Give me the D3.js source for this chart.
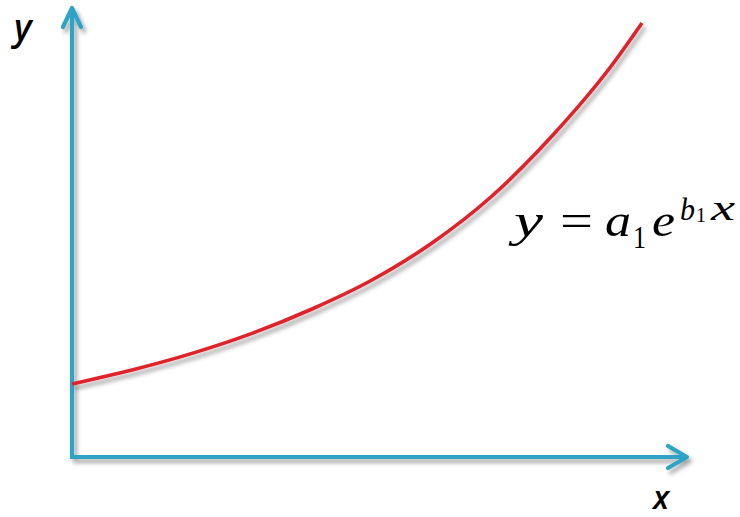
<!DOCTYPE html>
<html>
<head>
<meta charset="utf-8">
<script src="https://cdn.jsdelivr.net/npm/d3@7"></script>
<style>
  html, body { margin: 0; padding: 0; background: #fff; }
  svg { display: block; }
</style>
</head>
<body>
<svg id="chart" width="740" height="517"></svg>
<script>
// Data (arbitrary units)
const xValues = [0, 1, 2, 3, 4, 5, 6, 7, 8, 9, 9.5];
const yValues = [1.825, 2.175, 2.59, 3.09, 3.7, 4.425, 5.35, 6.525, 8.025, 9.8, 10.85];
const axisLabels = ["x", "y"];
const equationParts = ["y", "=", "a", "1", "e", "b", "1", "x"];

const svg = d3.select("#chart");
const x = d3.scaleLinear().domain([0, 10]).range([72, 672]);
const y = d3.scaleLinear().domain([0, 11]).range([457, 17]);

const defs = svg.append("defs");
const f = defs.append("filter").attr("id", "shadow")
  .attr("x", "-20%").attr("y", "-20%").attr("width", "140%").attr("height", "140%");
f.append("feDropShadow").attr("dx", 3).attr("dy", 4).attr("stdDeviation", 2.2)
  .attr("flood-color", "#000").attr("flood-opacity", 0.35);

const axisColor = "#2fa3c5";
const curveColor = "#e0202b";

const gAxes = svg.append("g").attr("filter", "url(#shadow)")
  .attr("stroke", axisColor).attr("stroke-width", 4.2).attr("fill", "none")
  .attr("stroke-linecap", "round").attr("stroke-linejoin", "round");

const x0 = x(0), y0 = y(0);
const xEnd = x.range()[1] + 15, yEnd = y.range()[1] - 9;
// vertical axis
gAxes.append("path").attr("d", `M${x0},${y0} L${x0},${yEnd}`).attr("stroke-linecap", "butt");
gAxes.append("path").attr("d", `M${x0 - 9},${yEnd + 19} L${x0},${yEnd} L${x0 + 9},${yEnd + 19}`);
// horizontal axis
gAxes.append("path").attr("d", `M${x0 - 2},${y0} L${xEnd},${y0}`).attr("stroke-linecap", "butt");
gAxes.append("path").attr("d", `M${xEnd - 19},${y0 - 11} L${xEnd},${y0} L${xEnd - 19},${y0 + 11}`);

// curve
const data = xValues.map((d, i) => ({ x: d, y: yValues[i] }));
const line = d3.line().x(d => x(d.x)).y(d => y(d.y)).curve(d3.curveMonotoneX);
svg.append("path").datum(data).attr("d", line)
  .attr("fill", "none").attr("stroke", curveColor).attr("stroke-width", 3.6)
  .attr("filter", "url(#shadow)");

// axis labels
svg.append("text").attr("x", 14).attr("y", 40).text(axisLabels[1])
  .attr("font-family", "Open Sans").attr("font-style", "italic").attr("font-weight", 600)
  .attr("font-size", 36).attr("fill", "#000");
svg.append("text").attr("x", 653).attr("y", 509).text(axisLabels[0])
  .attr("font-family", "Open Sans").attr("font-style", "italic").attr("font-weight", 600)
  .attr("font-size", 32).attr("fill", "#000");

// equation
const eq = svg.append("g").attr("font-family", "'Liberation Serif', serif").attr("fill", "#000");
const parts = [
  { t: equationParts[0], x: 514, y: 236, s: 46, w: 29, it: true },
  { t: equationParts[1], x: 560, y: 236, s: 46, w: 33, it: false },
  { t: equationParts[2], x: 605, y: 236, s: 46, w: 26, it: true },
  { t: equationParts[3], x: 633, y: 248, s: 32, w: 13, it: false },
  { t: equationParts[4], x: 652, y: 236, s: 46, w: 23, it: true },
  { t: equationParts[5], x: 680, y: 220, s: 31, w: 15, it: true },
  { t: equationParts[6], x: 696, y: 222, s: 22, w: 10, it: false },
  { t: equationParts[7], x: 711, y: 220, s: 36, w: 24, it: true }
];
eq.selectAll("text").data(parts).join("text")
  .attr("x", d => d.x).attr("y", d => d.y).attr("font-size", d => d.s)
  .attr("font-style", d => d.it ? "italic" : "normal")
  .attr("textLength", d => d.w).attr("lengthAdjust", "spacingAndGlyphs")
  .text(d => d.t);
</script>
</body>
</html>
